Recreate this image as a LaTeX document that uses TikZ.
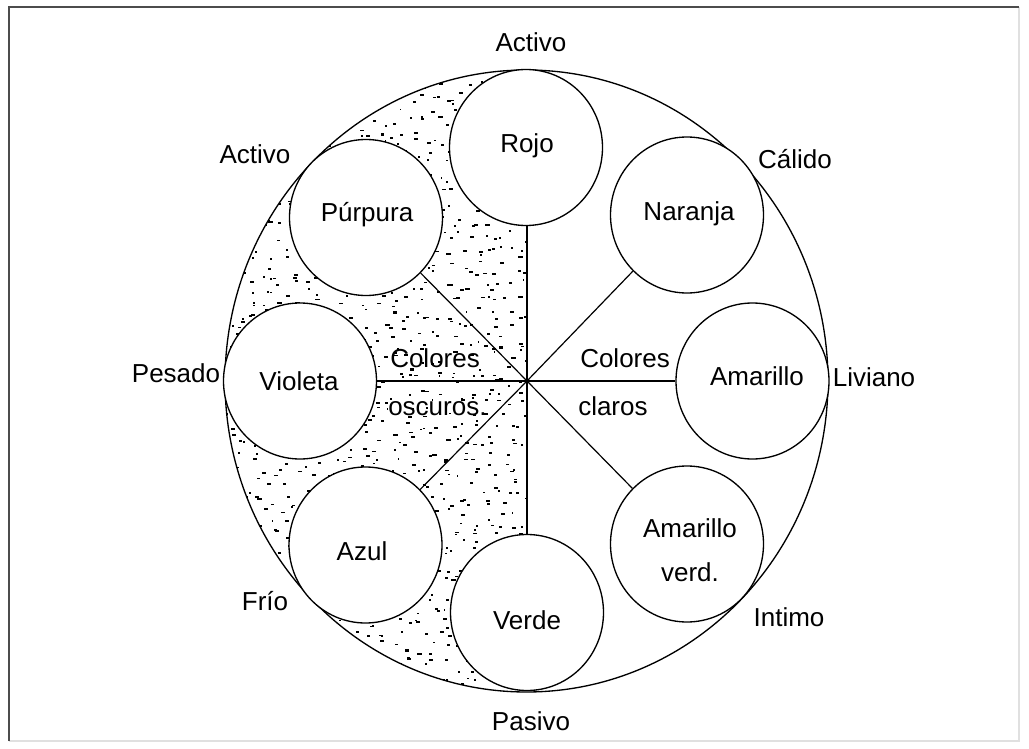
\documentclass[tikz,border=0pt]{standalone}
\usepackage{fontspec}
\setmainfont{Liberation Sans}
\usetikzlibrary{shapes.geometric}
\begin{document}
\begin{tikzpicture}[x=0.75pt,y=-0.75pt,
  every node/.style={font=\fontsize{19.5}{33}\selectfont, inner sep=0pt},
  colorcircle/.style={ellipse, draw, fill=white, line width=1pt,
     minimum width=114.75pt, minimum height=117pt},
  txt/.style={anchor=base},
  spoke/.style={line width=0.9pt},
  mainspoke/.style={line width=1.5pt},
  framedark/.style={line width=1.6pt, draw=black!70},
  framelight/.style={line width=0.8pt, draw=black!12}]
\useasboundingbox (0,0) rectangle (1029,749);
% frame
\draw[framelight] (1019,7) -- (1019,741) -- (9,741);
\draw[framedark] (9,741) -- (9,7) -- (1019,7);
% stippled left half
\begin{scope}
  \clip (526.5,381) ellipse [x radius=226.1pt, y radius=233.25pt];
  \clip (220,60) rectangle (527,700);
  \pgfmathsetseed{917}
  \foreach \i in {1,...,1300}{
    \pgfmathsetmacro\jx{16*rnd-8}
    \pgfmathsetmacro\pw{1.5+3*rnd}
    \pgfmathsetmacro\jy{16*rnd-8}
    \pgfmathsetmacro\ph{1.5+0.6*rnd}
    \pgfmathsetmacro\px{222+306*mod(0.5+\i*0.75488,1)+\jx}
    \pgfmathsetmacro\py{68+626*mod(0.5+\i*0.56984,1)+\jy}
    \fill[black] (\px,\py) rectangle ++(\pw,\ph);
  }
\end{scope}
% big circle
\draw[line width=1pt] (526.5,381) ellipse [x radius=226.1pt, y radius=233.25pt];
% centre and spokes
\coordinate (c) at (527,381);
\node[colorcircle] (rojo) at (526,147.5) {};
\node[colorcircle] (purpura) at (366,217.5) {};
\node[colorcircle] (naranja) at (687,215) {};
\node[colorcircle] (violeta) at (300,381) {};
\node[colorcircle] (amarillo) at (752.5,381) {};
\node[colorcircle] (azul) at (365.5,545) {};
\node[colorcircle] (amverd) at (687,544) {};
\node[colorcircle] (verde) at (527,612.5) {};
\draw[mainspoke] (c) -- (c |- rojo.south);
\draw[mainspoke] (c) -- (c |- verde.north);
\draw[spoke] (c) -- (violeta);
\draw[spoke] (c) -- (amarillo);
\draw[spoke] (c) -- (purpura);
\draw[spoke] (c) -- (naranja);
\draw[spoke] (c) -- (azul);
\draw[spoke] (c) -- (amverd);
% circle texts
\node[txt] (trojo) at (527,152) {Rojo};
\node[txt] (tpurpura) at (367,221) {Púrpura};
\node[txt] (tnaranja) at (689,220) {Naranja};
\node[txt] (tvioleta) at (299,390) {Violeta};
\node[txt] (tamarillo) at (757,385) {Amarillo};
\node[txt] (tazul) at (362,560) {Azul};
\node[txt] (tverde) at (527,629) {Verde};
\node[align=center] (tamverd) at (690,550) {Amarillo\\verd.};
% group texts
\node[anchor=base west] (col1) at (390,367) {Colores};
\node[anchor=base west] (osc) at (388,415) {oscuros.};
\node[anchor=base west] (col2) at (580,367) {Colores};
\node[anchor=base west] (cla) at (578,415) {claros};
% outer labels
\node[txt] (l1) at (531,52) {Activo};
\node[txt] (l2) at (255,163) {Activo};
\node[txt] (l3) at (795,168) {Cálido};
\node[txt] (l4) at (176,382) {Pesado};
\node[txt] (l5) at (874,386) {Liviano};
\node[txt] (l6) at (265,610) {Frío};
\node[txt] (l7) at (789,626) {Intimo};
\node[txt] (l8) at (531,730) {Pasivo};
\end{tikzpicture}
\end{document}
